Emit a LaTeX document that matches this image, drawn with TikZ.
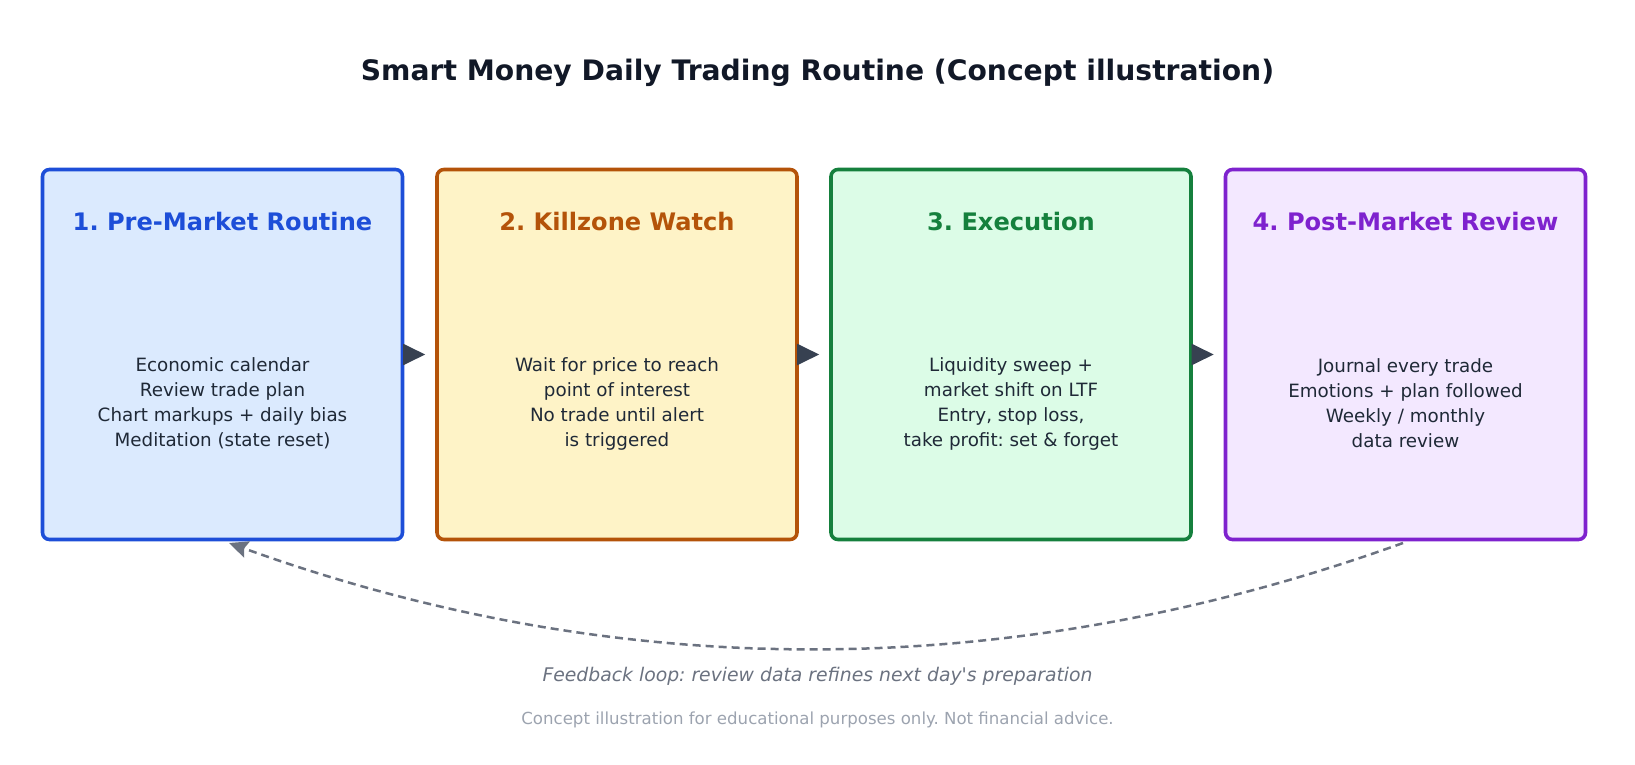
\documentclass[tikz,border=0pt]{standalone}
\usepackage{fontspec}
\setmainfont{DejaVu Sans}
\usetikzlibrary{arrows.meta}
\definecolor{titleink}{HTML}{111827}
\definecolor{bodyink}{HTML}{1F2937}
\definecolor{arrowink}{HTML}{374151}
\definecolor{loopink}{HTML}{6B7280}
\definecolor{noteink}{HTML}{9CA3AF}
\definecolor{preline}{HTML}{1D4ED8}
\definecolor{prefill}{HTML}{DBEAFE}
\definecolor{killline}{HTML}{B45309}
\definecolor{killfill}{HTML}{FEF3C7}
\definecolor{execline}{HTML}{15803D}
\definecolor{execfill}{HTML}{DCFCE7}
\definecolor{postline}{HTML}{7E22CE}
\definecolor{postfill}{HTML}{F3E8FF}
\frenchspacing

\begin{document}
\begin{tikzpicture}[x=1pt,y=-1pt,
  stage/.style={rectangle, line width=3.6pt, rounded corners=7pt, minimum width=360pt, minimum height=370pt, inner sep=0pt},
  head/.style={font=\fontsize{24.1}{28}\selectfont\bfseries},
  body/.style={align=center, text=bodyink, font=\fontsize{18.3}{25}\selectfont},
  next/.style={draw=arrowink, line width=2pt, -{Triangle[length=22pt,width=21pt]}, shorten >=10pt},
  point/.style={coordinate},
  every path/.style={line join=round}]
\useasboundingbox (0,0) rectangle (1635,765);
\node[text=titleink, font=\fontsize{28.2}{32}\selectfont\bfseries] (0) at (817.5,73) {Smart Money Daily Trading Routine (Concept illustration)};
\node[stage, draw=preline, fill=prefill] (1) at (222.5,354.5) {};
\node[stage, draw=killline, fill=killfill] (2) at (617,354.5) {};
\node[stage, draw=execline, fill=execfill] (3) at (1011,354.5) {};
\node[stage, draw=postline, fill=postfill] (4) at (1405.5,354.5) {};
\node[head, text=preline] (1h) at (222.5,222) {1. Pre-Market Routine};
\node[head, text=killline] (2h) at (617,222) {2. Killzone Watch};
\node[head, text=execline] (3h) at (1011,222) {3. Execution};
\node[head, text=postline] (4h) at (1405.5,222) {4. Post-Market Review};
\node[body] (1b) at (222.5,403.5) {Economic calendar\\Review trade plan\\Chart markups + daily bias\\Meditation (state reset)};
\node[body] (2b) at (617,403.5) {Wait for price to reach\\point of interest\\No trade until alert\\is triggered};
\node[body] (3b) at (1011,403.5) {Liquidity sweep +\\market shift on LTF\\Entry, stop loss,\\take profit: set \& forget};
\node[body] (4b) at (1405.5,403.5) {Journal every trade\\Emotions + plan followed\\Weekly / monthly\\data review};
\draw[next] (1) -- (2);
\draw[next] (2) -- (3);
\draw[next] (3) -- (4);
\node[point] (4s) at (1403,543) {};
\node[point] (1s) at (229,543) {};
\draw[draw=loopink, line width=2.5pt, dash pattern=on 8pt off 5pt, -{Stealth[length=19pt,width=17pt,inset=3pt]}]
  (4s) .. controls (1011,684) and (620,684) .. (1s);
\node[text=loopink, font=\fontsize{18.8}{22}\selectfont\itshape] (5) at (817.5,676) {Feedback loop: review data refines next day\textquotesingle s preparation};
\node[text=noteink, font=\fontsize{16.6}{20}\selectfont] (6) at (817.5,719.5) {Concept illustration for educational purposes only. Not financial advice.};
\end{tikzpicture}
\end{document}
